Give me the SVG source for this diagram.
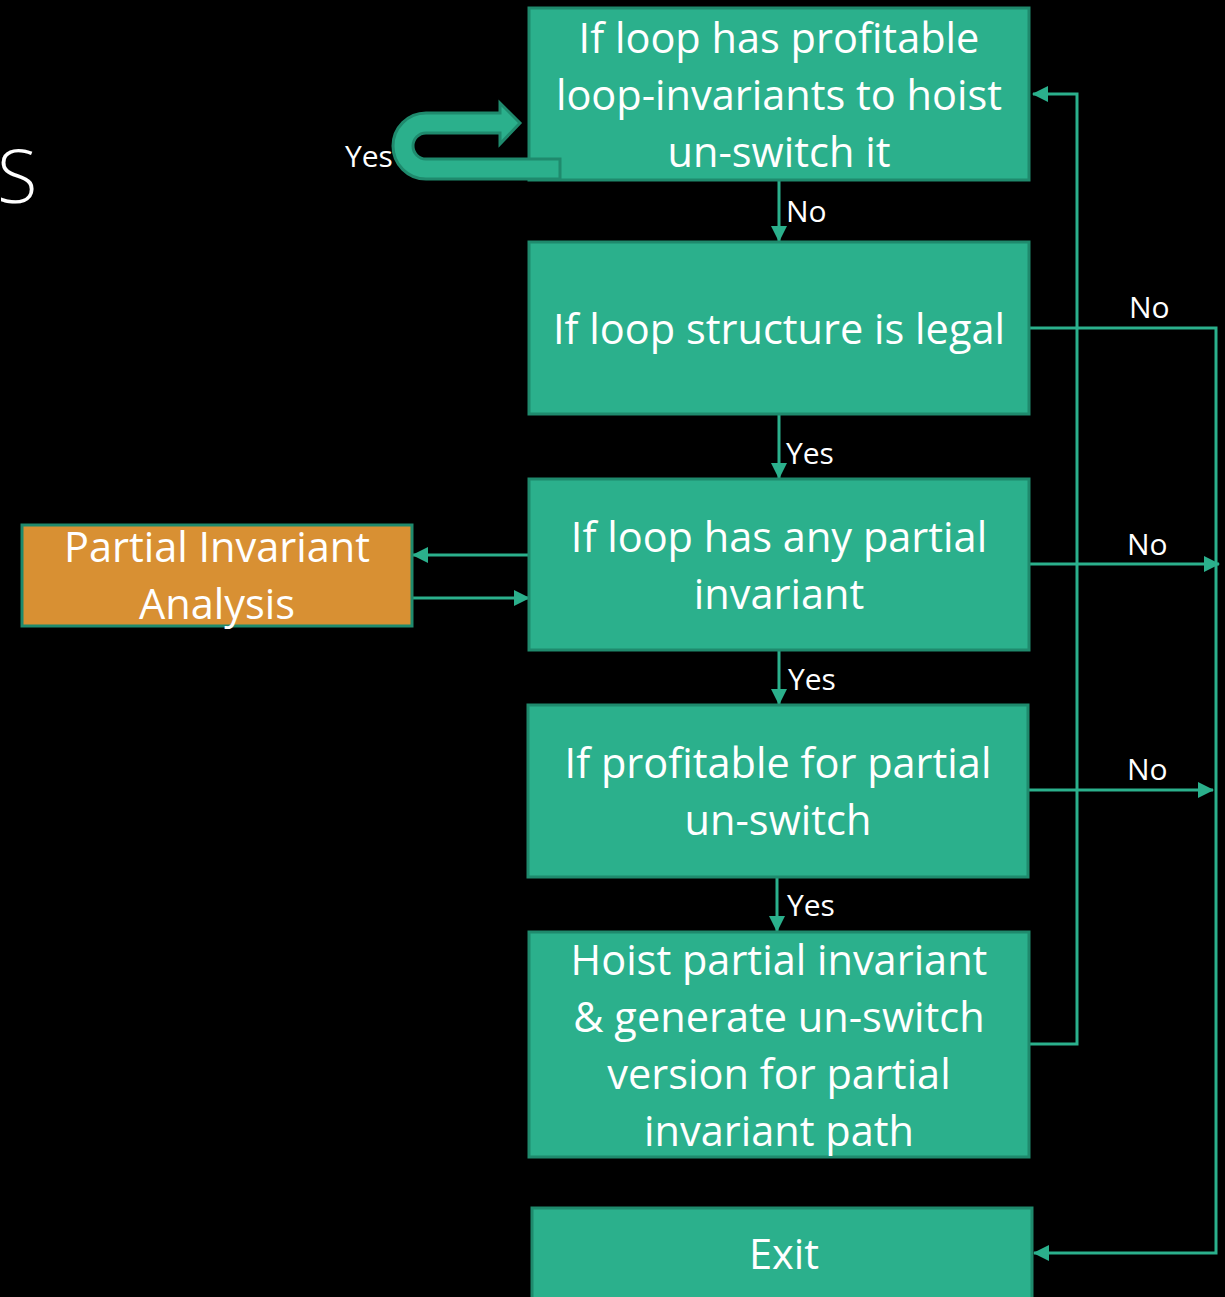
<svg xmlns="http://www.w3.org/2000/svg" width="1225" height="1297" viewBox="0 0 1225 1297">
<defs>
<style>
.box{fill:#2BB08C;stroke:#1F8A6D;stroke-width:3}
.orange{fill:#D89033;stroke:#1F8A6D;stroke-width:3}
.t{font-family:"Open Sans","Noto Sans","Liberation Sans",sans-serif;font-size:41.5px;fill:#FFFFFF;text-anchor:middle}
.lbl{font-family:"Open Sans","Noto Sans","Liberation Sans",sans-serif;font-size:30px;fill:#FFFFFF}
.c{fill:none;stroke:#2BB08C;stroke-width:3}
</style>
<marker id="ah" viewBox="0 0 16 16" refX="15" refY="8" markerWidth="16" markerHeight="16" markerUnits="userSpaceOnUse" orient="auto">
<path d="M0,0 L16,8 L0,16 Z" fill="#2BB08C"/>
</marker>
</defs>
<rect width="1225" height="1297" fill="#000000"/>
<text x="-3" y="203" font-family="'Open Sans','Noto Sans',sans-serif" font-size="74" font-weight="300" fill="#FFFFFF">S</text>

<g id="connectors">
<line class="c" x1="779" y1="181" x2="779" y2="241" marker-end="url(#ah)"/>
<line class="c" x1="779" y1="415" x2="779" y2="478" marker-end="url(#ah)"/>
<line class="c" x1="779" y1="651" x2="779" y2="704" marker-end="url(#ah)"/>
<line class="c" x1="777" y1="878" x2="777" y2="931" marker-end="url(#ah)"/>
<polyline class="c" points="1030,328 1216,328 1216,1253 1034,1253" marker-end="url(#ah)"/>
<line class="c" x1="1030" y1="564" x2="1219" y2="564" marker-end="url(#ah)"/>
<line class="c" x1="1029" y1="790" x2="1213" y2="790" marker-end="url(#ah)"/>
<polyline class="c" points="1030,1044 1077,1044 1077,94 1033,94" marker-end="url(#ah)"/>
<line class="c" x1="529" y1="555" x2="413" y2="555" marker-end="url(#ah)"/>
<line class="c" x1="412" y1="598" x2="529" y2="598" marker-end="url(#ah)"/>
<text class="lbl" x="786" y="222">No</text>
<text class="lbl" x="786" y="464">Yes</text>
<text class="lbl" x="788" y="690">Yes</text>
<text class="lbl" x="787" y="916">Yes</text>
<text class="lbl" x="1129" y="318">No</text>
<text class="lbl" x="1127" y="555">No</text>
<text class="lbl" x="1127" y="780">No</text>
<text class="lbl" x="345" y="167">Yes</text>
</g>

<g id="node1">
<rect class="box" x="529" y="8" width="500" height="172"/>
<text class="t" x="779" y="53">If loop has profitable</text>
<text class="t" x="779" y="110">loop-invariants to hoist</text>
<text class="t" x="779" y="167">un-switch it</text>
</g>
<g id="uturn">
<path d="M500,113 L426,113 A33,33 0 0 0 426,179 L560,179 L560,159 L426,159 A13,13 0 0 1 426,133 L500,133 L500,144 L520,123 L500,103 Z" fill="#2BB08C" stroke="#1F8A6D" stroke-width="3" stroke-linejoin="miter"/>
</g>
<g id="node2">
<rect class="box" x="529" y="242" width="500" height="172"/>
<text class="t" x="779" y="344">If loop structure is legal</text>
</g>
<g id="node3">
<rect class="box" x="529" y="479" width="500" height="171"/>
<text class="t" x="779" y="552">If loop has any partial</text>
<text class="t" x="779" y="609">invariant</text>
</g>
<g id="node4">
<rect class="box" x="528" y="705" width="500" height="172"/>
<text class="t" x="778" y="778">If profitable for partial</text>
<text class="t" x="778" y="835">un-switch</text>
</g>
<g id="node5">
<rect class="box" x="529" y="932" width="500" height="225"/>
<text class="t" x="779" y="975">Hoist partial invariant</text>
<text class="t" x="779" y="1032">&amp; generate un-switch</text>
<text class="t" x="779" y="1089">version for partial</text>
<text class="t" x="779" y="1146">invariant path</text>
</g>
<g id="exit">
<rect class="box" x="532" y="1208" width="500" height="100"/>
<text class="t" x="784" y="1269">Exit</text>
</g>
<g id="pia">
<rect class="orange" x="22" y="525" width="390" height="101"/>
<text class="t" x="217" y="562">Partial Invariant</text>
<text class="t" x="217" y="619">Analysis</text>
</g>
</svg>
